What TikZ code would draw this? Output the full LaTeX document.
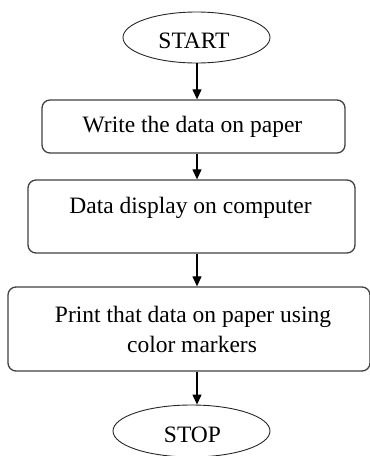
\documentclass[tikz,border=0pt]{standalone}
\usepackage{fontspec}
\setmainfont{Liberation Serif}
\usetikzlibrary{arrows.meta,shapes.geometric}
\begin{document}
\begin{tikzpicture}[x=1pt,y=1pt,
  txt/.style={anchor=base,inner sep=0pt,font=\fontsize{23.5}{30}\selectfont,text=black},
  stepbox/.style={draw=black!75,line width=1.3pt,rounded corners=8pt,inner sep=0pt},
  term/.style={ellipse,draw=black!85,line width=0.9pt,inner sep=0pt},
  arr/.style={-{Triangle[width=9pt,length=10pt]},line width=1.2pt,black}]
\useasboundingbox (0,0) rectangle (370,-456);
\node[term,minimum width=147pt,minimum height=51pt] (start) at (196.5,-37.5) {};
\node[txt] (tstart) at (194,-48) {START};
\node[stepbox,minimum width=303pt,minimum height=53pt] (b1) at (193.5,-126.5) {};
\node[txt] (t1) at (192.5,-132.5) {Write the data on paper};
\node[stepbox,minimum width=327pt,minimum height=73pt] (b2) at (191.5,-216.5) {};
\node[txt] (t2) at (190.5,-213) {Data display on computer};
\node[stepbox,minimum width=362pt,minimum height=84pt] (b3) at (189,-329) {};
\node[txt] (t3a) at (193,-322) {Print that data on paper using};
\node[txt] (t3b) at (192,-352) {color markers};
\node[term,minimum width=157pt,minimum height=52pt] (stop) at (191.5,-431) {};
\node[txt] (tstop) at (192.5,-442) {STOP};
\coordinate (ax) at (197,0);
\draw[arr] (start.south -| ax) -- (b1.north -| ax);
\draw[arr] (b1.south -| ax) -- (b2.north -| ax);
\draw[arr] (b2.south -| ax) -- (b3.north -| ax);
\draw[arr] (b3.south -| ax) -- (stop.north -| ax);
\end{tikzpicture}
\end{document}
